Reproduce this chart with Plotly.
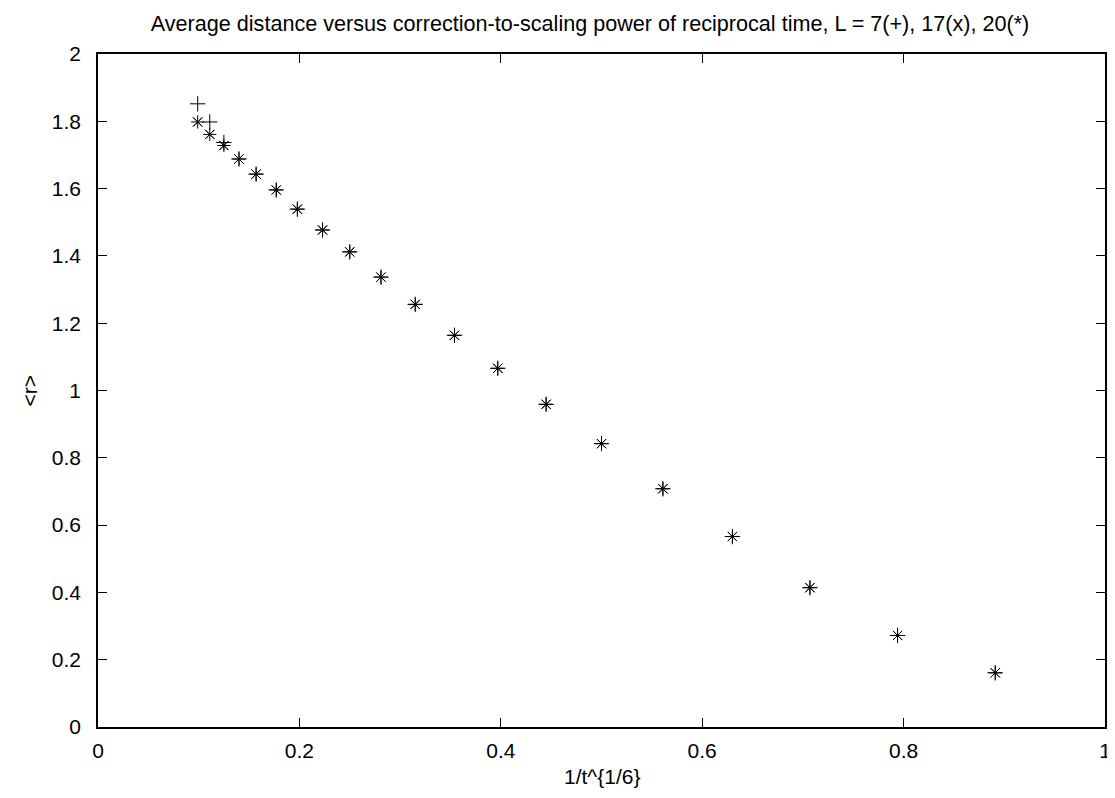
import plotly.graph_objects as go

# x = 1/t^(1/6) values
x_vals = [0.099, 0.111, 0.125, 0.140, 0.157, 0.177, 0.198, 0.223, 0.250, 0.281,
          0.315, 0.354, 0.397, 0.445, 0.500, 0.561, 0.630, 0.707, 0.794, 0.891]

y_L7 = [1.852, 1.798, 1.737, 1.688, 1.643, 1.596, 1.539, 1.477, 1.412, 1.337,
        1.256, 1.164, 1.066, 0.959, 0.842, 0.708, 0.566, 0.414, 0.272, 0.161]
y_L17 = [1.798, 1.761, 1.728, 1.688, 1.643, 1.596, 1.539, 1.477, 1.412, 1.337,
         1.256, 1.164, 1.066, 0.959, 0.842, 0.708, 0.566, 0.414, 0.272, 0.161]
y_L20 = [1.798, 1.761, 1.728, 1.688, 1.643, 1.596, 1.539, 1.477, 1.412, 1.337,
         1.256, 1.164, 1.066, 0.959, 0.842, 0.708, 0.566, 0.414, 0.272, 0.161]

x_ticks = [0, 0.2, 0.4, 0.6, 0.8, 1]
x_ticklabels = ["0", "0.2", "0.4", "0.6", "0.8", "1"]
y_ticks = [0, 0.2, 0.4, 0.6, 0.8, 1, 1.2, 1.4, 1.6, 1.8, 2]
y_ticklabels = ["0", "0.2", "0.4", "0.6", "0.8", "1", "1.2", "1.4", "1.6", "1.8", "2"]

FONT = "Liberation Sans, Arial, sans-serif"
W, H = 1107, 790  # page adds an 8px body margin

fig = go.Figure()
fig.add_trace(go.Scatter(x=x_vals, y=y_L7, mode="markers", name="L=7",
                         marker=dict(symbol="cross-thin-open", size=11, color="black",
                                     line=dict(color="black", width=1))))
fig.add_trace(go.Scatter(x=x_vals, y=y_L17, mode="markers", name="L=17",
                         marker=dict(symbol="x-thin-open", size=9, color="black",
                                     line=dict(color="black", width=1))))
fig.add_trace(go.Scatter(x=x_vals, y=y_L20, mode="markers", name="L=20",
                         marker=dict(symbol="asterisk-open", size=11, color="black",
                                     line=dict(color="black", width=1))))

axis_common = dict(showline=True, linecolor="black", linewidth=1.5, mirror="ticks",
                   ticks="inside", ticklen=9, tickcolor="black", tickwidth=1,
                   showgrid=False, zeroline=False, automargin=False,
                   tickfont=dict(size=21, color="black", family=FONT))

fig.update_layout(
    width=W, height=H,
    margin=dict(l=90, r=10, t=46, b=71, autoexpand=False),
    plot_bgcolor="white", paper_bgcolor="white",
    showlegend=False,
    font=dict(family=FONT, color="black", size=21),
    title=dict(text="Average distance versus correction-to-scaling power of reciprocal time, L = 7(+), 17(x), 20(*)",
               x=582 / W, xref="container", xanchor="center",
               y=1 - 15 / H, yref="container", yanchor="middle",
               font=dict(size=21.6, color="black", family=FONT)),
    xaxis=dict(range=[0, 1], tickvals=x_ticks, ticktext=x_ticklabels,
               ticklabelstandoff=4, **axis_common),
    yaxis=dict(range=[0, 2], tickvals=y_ticks, ticktext=y_ticklabels,
               ticklabelstandoff=11, **axis_common),
    annotations=[
        dict(text="1/t^{1/6}", xref="paper", yref="paper", x=0.5, y=0,
             xanchor="center", yanchor="middle", yshift=-49, showarrow=False,
             font=dict(size=21, color="black", family=FONT)),
        dict(text="&lt;r&gt;", xref="paper", yref="paper", x=0, y=0.5,
             xanchor="center", yanchor="middle", xshift=-69, textangle=-90,
             showarrow=False, font=dict(size=21, color="black", family=FONT)),
    ],
)

fig.write_html("out.html")
